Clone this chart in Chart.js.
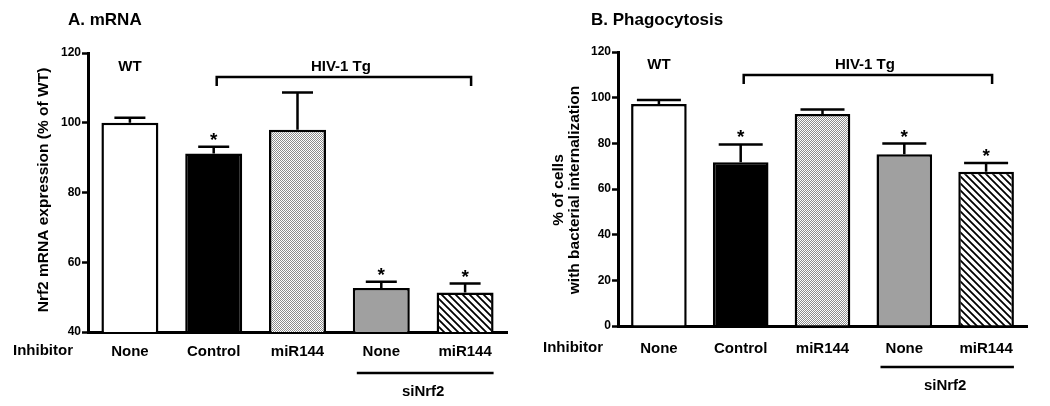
<!DOCTYPE html>
<html>
<head>
<meta charset="utf-8">
<script src="https://cdn.jsdelivr.net/npm/chart.js@4.4.0/dist/chart.umd.min.js"></script>
<style>
  body { margin: 0; background: #fff; }
  .wrap { display: flex; width: 1050px; height: 406px; }
  canvas { display: block; }
</style>
</head>
<body>
<div class="wrap">
  <canvas id="mrnaChart" width="525" height="406"></canvas>
  <canvas id="phagoChart" width="525" height="406"></canvas>
</div>
<script>
const categories = ["None", "Control", "miR144", "None", "miR144"];

// A. mRNA (% of WT)
const mrnaMean = [100, 91.2, 98, 52.6, 51.3];
const mrnaErr = [1.4, 1.9, 10.7, 1.8, 2.6];
const mrnaSig = [false, true, false, true, true];
const mrnaTicks = [40, 60, 80, 100, 120];

// B. Phagocytosis (% of cells with bacterial internalization)
const phagoMean = [97.2, 71.7, 92.8, 75.2, 67.6];
const phagoErr = [1.8, 7.8, 2.0, 4.7, 3.8];
const phagoSig = [false, true, false, true, true];
const phagoTicks = [0, 20, 40, 60, 80, 100, 120];

const FONT = "'Liberation Sans', Arial, sans-serif";
Chart.defaults.font.family = FONT;
Chart.defaults.color = "#000";

function makeStipple() {
  const c = document.createElement("canvas");
  c.width = 2; c.height = 2;
  const g = c.getContext("2d");
  g.fillStyle = "#fff"; g.fillRect(0, 0, 2, 2);
  g.fillStyle = "#8c8c8c";
  g.fillRect(0, 0, 1, 1);
  g.fillRect(1, 1, 1, 1);
  return g.createPattern(c, "repeat");
}

function makeHatch() {
  const s = 7;
  const c = document.createElement("canvas");
  c.width = s; c.height = s;
  const g = c.getContext("2d");
  g.fillStyle = "#fff"; g.fillRect(0, 0, s, s);
  g.strokeStyle = "#000";
  g.lineWidth = 1.8;
  g.beginPath();
  g.moveTo(-1, -1); g.lineTo(s + 1, s + 1);
  g.moveTo(-1, s - 1); g.lineTo(1, s + 1);
  g.moveTo(s - 1, -1); g.lineTo(s + 1, 1);
  g.stroke();
  return g.createPattern(c, "repeat");
}

const fills = ["#fff", "#000", makeStipple(), "#a0a0a0", makeHatch()];

const panelDecor = {
  id: "panelDecor",
  afterDatasetsDraw(chart, args, opts) {
    const ctx = chart.ctx;
    const y = chart.scales.y;
    const bars = chart.getDatasetMeta(0).data;
    const vals = chart.data.datasets[0].data;
    ctx.save();
    ctx.strokeStyle = "#000";
    ctx.fillStyle = "#000";
    ctx.lineWidth = 2.5;
    bars.forEach((bar, i) => {
      const top = y.getPixelForValue(vals[i] + opts.errors[i]);
      ctx.beginPath();
      ctx.moveTo(bar.x, bar.y);
      ctx.lineTo(bar.x, top);
      ctx.moveTo(bar.x - opts.capWidth / 2, top);
      ctx.lineTo(bar.x + opts.capWidth / 2, top);
      ctx.stroke();
      if (opts.significant[i]) {
        ctx.font = "bold 19px " + FONT;
        ctx.textAlign = "center";
        ctx.textBaseline = "alphabetic";
        ctx.fillText("*", bar.x, top - 1);
      }
    });
    ctx.restore();
  },
  afterDraw(chart, args, opts) {
    const ctx = chart.ctx;
    const area = chart.chartArea;
    const bars = chart.getDatasetMeta(0).data;
    ctx.save();
    ctx.fillStyle = "#000";
    ctx.strokeStyle = "#000";

    // panel title
    ctx.font = "bold 17px " + FONT;
    ctx.textAlign = "left";
    ctx.textBaseline = "alphabetic";
    ctx.fillText(opts.title, opts.titleX, 25);

    // y axis title (rotated)
    ctx.font = "bold 15.5px " + FONT;
    ctx.textAlign = "center";
    ctx.textBaseline = "middle";
    opts.yTitle.forEach((line, k) => {
      ctx.save();
      ctx.translate(opts.yTitleX[k], 190);
      ctx.rotate(-Math.PI / 2);
      ctx.fillText(line, 0, 0);
      ctx.restore();
    });

    // group labels and bracket
    ctx.font = "bold 15px " + FONT;
    ctx.fillText("WT", bars[0].x, area.top + opts.groupY);
    const bl = bars[1].x + 3;
    const br = bars[4].x + 6;
    ctx.fillText("HIV-1 Tg", (bl + br) / 2 - 3, area.top + opts.groupY);
    const by = area.top + opts.groupY + 10;
    ctx.lineWidth = 2.5;
    ctx.beginPath();
    ctx.moveTo(bl, by + 9);
    ctx.lineTo(bl, by);
    ctx.lineTo(br, by);
    ctx.lineTo(br, by + 9);
    ctx.stroke();

    // Inhibitor row label
    ctx.textAlign = "left";
    ctx.fillText("Inhibitor", opts.inhibitorX, area.bottom + opts.labelDy);

    // siNrf2 underline
    const sl = bars[3].x - bars[3].width / 2 + 4;
    const sr = bars[4].x + bars[4].width / 2;
    const sy = area.bottom + 41;
    ctx.lineWidth = 2.5;
    ctx.beginPath();
    ctx.moveTo(sl, sy);
    ctx.lineTo(sr, sy);
    ctx.stroke();
    ctx.textAlign = "center";
    ctx.fillText("siNrf2", (sl + sr) / 2 - 2, area.bottom + 60);
    ctx.restore();
  }
};

function buildChart(id, values, cfg) {
  const ticks = cfg.ticks;
  return new Chart(document.getElementById(id), {
    type: "bar",
    data: {
      labels: categories,
      datasets: [{
        data: values,
        backgroundColor: fills,
        borderColor: "#000",
        borderWidth: 2.5,
        categoryPercentage: 1,
        barPercentage: 0.68
      }]
    },
    options: {
      responsive: false,
      animation: false,
      devicePixelRatio: 1,
      layout: { padding: { left: 0, top: cfg.padTop, right: cfg.padRight, bottom: 0 } },
      scales: {
        x: {
          grid: { display: true, drawOnChartArea: false, drawTicks: false },
          border: { display: true, color: "#000", width: 3 },
          ticks: { font: { size: 15, weight: "bold" }, color: "#000", padding: cfg.labelPad },
          afterFit: (s) => { s.height = cfg.xHeight; }
        },
        y: {
          min: ticks[0],
          max: ticks[ticks.length - 1],
          afterBuildTicks: (s) => { s.ticks = ticks.map(v => ({ value: v })); },
          grid: { display: true, drawOnChartArea: false, drawTicks: true, tickLength: 6, tickWidth: 2.5, tickColor: "#000" },
          border: { display: true, color: "#000", width: 3 },
          ticks: { font: { size: 12, weight: "bold" }, color: "#000", padding: 1 },
          afterFit: (s) => { s.width = cfg.yWidth; }
        }
      },
      plugins: {
        legend: { display: false },
        tooltip: { enabled: false },
        panelDecor: cfg.decor
      }
    },
    plugins: [panelDecor]
  });
}

buildChart("mrnaChart", mrnaMean, {
  ticks: mrnaTicks,
  padTop: 53, padRight: 18, xHeight: 74, yWidth: 88, labelPad: 11,
  decor: {
    title: "A. mRNA", titleX: 68,
    yTitle: ["Nrf2 mRNA expression (% of WT)"], yTitleX: [44],
    errors: mrnaErr, significant: mrnaSig, capWidth: 31,
    groupY: 14, inhibitorX: 13, labelDy: 19
  }
});

buildChart("phagoChart", phagoMean, {
  ticks: phagoTicks,
  padTop: 52, padRight: 23, xHeight: 80, yWidth: 93, labelPad: 14,
  decor: {
    title: "B. Phagocytosis", titleX: 66,
    yTitle: ["% of cells", "with bacterial internalization"], yTitleX: [34, 50],
    errors: phagoErr, significant: phagoSig, capWidth: 44,
    groupY: 13, inhibitorX: 18, labelDy: 22
  }
});
</script>
</body>
</html>
